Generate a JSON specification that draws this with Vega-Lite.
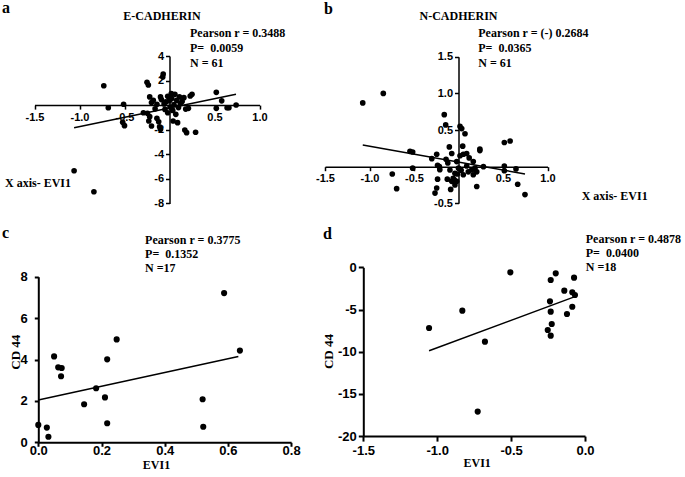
{
  "$schema": "https://vega.github.io/schema/vega-lite/v6.json",
  "width": 685,
  "height": 477,
  "autosize": {"type": "none"},
  "padding": 0,
  "background": "white",
  "config": {
    "view": {"stroke": null},
    "axis": {"grid": false, "labelFlush": false, "labelOverlap": false, "domainColor": "black", "tickColor": "black", "labelColor": "black", "labelFont": "Liberation Sans", "labelFontWeight": "bold", "titleFont": "Liberation Serif", "titleFontWeight": "bold", "titleColor": "black", "labelExpr": "replace(datum.label, '\u2212', '-')"}
  },
  "resolve": {"scale": {"x": "independent", "y": "independent"}, "axis": {"x": "independent", "y": "independent"}},
  "layer": [
    {
      "data": {"values": [
        {"x": -1.06, "y": -5.34}, {"x": -0.84, "y": -7.05}, {"x": -0.73, "y": 1.58}, {"x": -0.68, "y": -0.21}, {"x": -0.51, "y": 0.07},
        {"x": -0.52, "y": -1.40}, {"x": -0.50, "y": -1.67}, {"x": -0.25, "y": 1.86}, {"x": -0.235, "y": 1.64}, {"x": -0.07, "y": 2.53},
        {"x": -0.075, "y": 2.30}, {"x": -0.22, "y": 0.67}, {"x": -0.20, "y": 0.21}, {"x": -0.29, "y": -0.62}, {"x": -0.245, "y": -0.67},
        {"x": -0.22, "y": -0.94}, {"x": -0.23, "y": -1.29}, {"x": -0.14, "y": -1.07}, {"x": -0.12, "y": -1.35}, {"x": -0.20, "y": -1.70},
        {"x": -0.11, "y": -1.76}, {"x": -0.10, "y": -1.97}, {"x": -0.14, "y": 0.07}, {"x": -0.10, "y": 0.67}, {"x": -0.09, "y": 0.45},
        {"x": -0.02, "y": 0.72}, {"x": -0.04, "y": 0.26}, {"x": 0.025, "y": 0.53}, {"x": 0.06, "y": 0.88}, {"x": 0.006, "y": -0.16},
        {"x": 0.036, "y": -0.43}, {"x": -0.02, "y": -0.62}, {"x": 0.07, "y": -0.75}, {"x": 0.04, "y": -1.29}, {"x": 0.09, "y": -1.43},
        {"x": 0.12, "y": 0.13}, {"x": 0.16, "y": 0.61}, {"x": 0.11, "y": 0.67}, {"x": 0.21, "y": -0.26}, {"x": 0.18, "y": -0.32},
        {"x": 0.23, "y": 0.74}, {"x": 0.25, "y": 0.88}, {"x": 0.17, "y": -2.03}, {"x": 0.19, "y": -2.24}, {"x": 0.29, "y": -2.21},
        {"x": 0.52, "y": 1.04}, {"x": 0.58, "y": 0.35}, {"x": 0.52, "y": -0.26}, {"x": 0.64, "y": -0.21}, {"x": 0.66, "y": -0.21},
        {"x": 0.74, "y": 0.01}, {"x": -0.18, "y": 0.40}, {"x": -0.06, "y": 0.10}, {"x": 0.0, "y": 0.35}, {"x": 0.10, "y": -0.20},
        {"x": 0.14, "y": 0.30}, {"x": -0.05, "y": -0.35}, {"x": 0.05, "y": 0.05}, {"x": -0.16, "y": -0.30}, {"x": 0.08, "y": 0.40},
        {"x": 0.02, "y": 0.95}
      ]},
      "layer": [
        {
          "mark": {"type": "circle", "size": 32, "color": "black", "opacity": 1},
          "encoding": {
            "x": {"field": "x", "type": "quantitative",
              "scale": {"domain": [-1.5, 1], "range": [34.5, 259.5], "nice": false, "zero": false},
              "axis": {"orient": "bottom", "offset": -371.9, "values": [-1.5, -1, -0.5, 0.5, 1], "format": ".1f", "title": null, "labelFontSize": 11, "tickSize": 4, "domainWidth": 1.5, "tickWidth": 1.5, "labelPadding": 2}},
            "y": {"field": "y", "type": "quantitative",
              "scale": {"domain": [-8, 4], "range": [203.4, 56], "nice": false, "zero": false},
              "axis": {"orient": "left", "offset": -169.5, "values": [4, 2, -2, -4, -6, -8], "format": "d", "title": null, "labelFontSize": 11, "tickSize": 4, "domainWidth": 1.5, "tickWidth": 1.5, "labelPadding": 2}}
          }
        },
        {
          "data": {"values": [{"x": -1.06, "y": -1.84}, {"x": 0.739, "y": 0.88}]},
          "mark": {"type": "line", "color": "black", "strokeWidth": 1.5},
          "encoding": {"x": {"field": "x", "type": "quantitative"}, "y": {"field": "y", "type": "quantitative"}}
        },
        {
          "data": {"values": [{}]},
          "mark": {"type": "text", "text": "E-CADHERIN", "font": "Liberation Serif", "fontWeight": "bold", "fontSize": 12, "align": "center", "baseline": "middle", "color": "black"},
          "encoding": {"x": {"datum": -0.083, "type": "quantitative"}, "y": {"datum": 7.26, "type": "quantitative"}}
        },
        {
          "data": {"values": [{}]},
          "mark": {"type": "text", "text": ["Pearson r = 0.3488", "P= \u00a00.0059", "N = 61"], "lineHeight": 15, "font": "Liberation Serif", "fontWeight": "bold", "fontSize": 12, "align": "left", "baseline": "top", "color": "black"},
          "encoding": {"x": {"datum": 0.228, "type": "quantitative"}, "y": {"datum": 6.30, "type": "quantitative"}}
        },
        {
          "data": {"values": [{}]},
          "mark": {"type": "text", "text": "X axis- EVI1", "font": "Liberation Serif", "fontWeight": "bold", "fontSize": 12, "align": "left", "baseline": "middle", "color": "black"},
          "encoding": {"x": {"datum": -1.828, "type": "quantitative"}, "y": {"datum": -6.30, "type": "quantitative"}}
        },
        {
          "data": {"values": [{}]},
          "mark": {"type": "text", "text": "a", "font": "Liberation Serif", "fontWeight": "bold", "fontSize": 16, "align": "left", "baseline": "alphabetic", "color": "black"},
          "encoding": {"x": {"datum": -1.861, "type": "quantitative"}, "y": {"datum": 7.46, "type": "quantitative"}}
        }
      ]
    },
    {
      "data": {"values": [
        {"x": -1.076, "y": 0.87}, {"x": -0.845, "y": 1.0}, {"x": -0.744, "y": -0.10}, {"x": -0.695, "y": -0.30}, {"x": -0.545, "y": 0.21},
        {"x": -0.515, "y": 0.20}, {"x": -0.515, "y": -0.02}, {"x": -0.16, "y": 0.71}, {"x": -0.144, "y": 0.57}, {"x": -0.103, "y": 0.27},
        {"x": -0.30, "y": 0.11}, {"x": -0.245, "y": 0.17}, {"x": -0.14, "y": 0.10}, {"x": -0.076, "y": 0.18}, {"x": -0.235, "y": 0.02},
        {"x": -0.215, "y": 0.0}, {"x": -0.21, "y": -0.04}, {"x": -0.096, "y": -0.045}, {"x": -0.235, "y": -0.17}, {"x": -0.126, "y": -0.17},
        {"x": -0.076, "y": -0.20}, {"x": -0.047, "y": -0.18}, {"x": -0.088, "y": -0.31}, {"x": -0.245, "y": -0.29}, {"x": -0.264, "y": -0.36},
        {"x": -0.04, "y": -0.25}, {"x": -0.013, "y": -0.10}, {"x": 0.017, "y": 0.55}, {"x": 0.036, "y": 0.52}, {"x": 0.073, "y": 0.45},
        {"x": 0.047, "y": 0.28}, {"x": 0.054, "y": 0.17}, {"x": 0.092, "y": 0.18}, {"x": 0.017, "y": 0.15}, {"x": 0.24, "y": 0.24},
        {"x": 0.24, "y": 0.22}, {"x": -0.02, "y": 0.07}, {"x": 0.0, "y": -0.02}, {"x": 0.092, "y": 0.01}, {"x": 0.166, "y": 0.07},
        {"x": 0.148, "y": -0.045}, {"x": 0.185, "y": -0.02}, {"x": 0.205, "y": -0.07}, {"x": 0.28, "y": 0.0}, {"x": 0.11, "y": -0.07},
        {"x": 0.054, "y": -0.11}, {"x": 0.166, "y": -0.11}, {"x": -0.04, "y": -0.09}, {"x": -0.06, "y": -0.16}, {"x": -0.02, "y": -0.20},
        {"x": 0.205, "y": -0.27}, {"x": 0.515, "y": 0.33}, {"x": 0.58, "y": 0.35}, {"x": 0.515, "y": 0.01}, {"x": 0.515, "y": -0.055},
        {"x": 0.646, "y": -0.03}, {"x": 0.665, "y": -0.24}, {"x": 0.747, "y": -0.38}, {"x": -0.12, "y": 0.05}, {"x": 0.03, "y": -0.05},
        {"x": 0.12, "y": 0.12}
      ]},
      "layer": [
        {
          "mark": {"type": "circle", "size": 32, "color": "black", "opacity": 1},
          "encoding": {
            "x": {"field": "x", "type": "quantitative",
              "scale": {"domain": [-1.5, 1], "range": [325, 547.5], "nice": false, "zero": false},
              "axis": {"orient": "bottom", "offset": -310.3, "values": [-1.5, -1, -0.5, 0.5, 1], "format": ".1f", "title": null, "labelFontSize": 11, "tickSize": 4, "domainWidth": 1.5, "tickWidth": 1.5, "labelPadding": 2}},
            "y": {"field": "y", "type": "quantitative",
              "scale": {"domain": [-0.5, 1.5], "range": [203.35, 56.75], "nice": false, "zero": false},
              "axis": {"orient": "left", "offset": -458.5, "values": [1.5, 1, 0.5, -0.5], "format": ".1f", "title": null, "labelFontSize": 11, "tickSize": 4, "domainWidth": 1.5, "tickWidth": 1.5, "labelPadding": 2}}
          }
        },
        {
          "data": {"values": [{"x": -1.076, "y": 0.296}, {"x": 0.747, "y": -0.10}]},
          "mark": {"type": "line", "color": "black", "strokeWidth": 1.5},
          "encoding": {"x": {"field": "x", "type": "quantitative"}, "y": {"field": "y", "type": "quantitative"}}
        },
        {
          "data": {"values": [{}]},
          "mark": {"type": "text", "text": "N-CADHERIN", "font": "Liberation Serif", "fontWeight": "bold", "fontSize": 12, "align": "center", "baseline": "middle", "color": "black"},
          "encoding": {"x": {"datum": 0.0, "type": "quantitative"}, "y": {"datum": 2.056, "type": "quantitative"}}
        },
        {
          "data": {"values": [{}]},
          "mark": {"type": "text", "text": ["Pearson r = (-) 0.2684", "P= \u00a00.0365", "N = 61"], "lineHeight": 15, "font": "Liberation Serif", "fontWeight": "bold", "fontSize": 12, "align": "left", "baseline": "top", "color": "black"},
          "encoding": {"x": {"datum": 0.222, "type": "quantitative"}, "y": {"datum": 1.896, "type": "quantitative"}}
        },
        {
          "data": {"values": [{}]},
          "mark": {"type": "text", "text": "X axis- EVI1", "font": "Liberation Serif", "fontWeight": "bold", "fontSize": 12, "align": "left", "baseline": "middle", "color": "black"},
          "encoding": {"x": {"datum": 1.384, "type": "quantitative"}, "y": {"datum": -0.40, "type": "quantitative"}}
        },
        {
          "data": {"values": [{}]},
          "mark": {"type": "text", "text": "b", "font": "Liberation Serif", "fontWeight": "bold", "fontSize": 16, "align": "left", "baseline": "alphabetic", "color": "black"},
          "encoding": {"x": {"datum": -1.51, "type": "quantitative"}, "y": {"datum": 2.09, "type": "quantitative"}}
        }
      ]
    },
    {
      "data": {"values": [
        {"x": 0.0, "y": 0.84}, {"x": 0.027, "y": 0.71}, {"x": 0.032, "y": 0.27}, {"x": 0.050, "y": 4.15}, {"x": 0.063, "y": 3.62},
        {"x": 0.074, "y": 3.59}, {"x": 0.072, "y": 3.19}, {"x": 0.145, "y": 1.84}, {"x": 0.183, "y": 2.61}, {"x": 0.211, "y": 2.17},
        {"x": 0.218, "y": 4.01}, {"x": 0.218, "y": 0.92}, {"x": 0.248, "y": 4.97}, {"x": 0.520, "y": 2.08}, {"x": 0.522, "y": 0.75},
        {"x": 0.588, "y": 7.21}, {"x": 0.638, "y": 4.43}
      ]},
      "layer": [
        {
          "mark": {"type": "circle", "size": 38, "color": "black", "opacity": 1},
          "encoding": {
            "x": {"field": "x", "type": "quantitative",
              "scale": {"domain": [0, 0.8], "range": [38.3, 291.1], "nice": false, "zero": false},
              "axis": {"orient": "bottom", "offset": -34.7, "values": [0, 0.2, 0.4, 0.6, 0.8], "format": ".1f", "title": "EVI1", "titleFontSize": 12, "titleX": 156, "titleY": 26.5, "titleBaseline": "alphabetic", "titleAlign": "center", "labelFontSize": 13, "tickSize": 4, "domainWidth": 2, "tickWidth": 2, "labelPadding": -1.5}},
            "y": {"field": "y", "type": "quantitative",
              "scale": {"domain": [0, 8], "range": [442.3, 276.7], "nice": false, "zero": false},
              "axis": {"orient": "left", "offset": -38.3, "values": [0, 2, 4, 6, 8], "format": "d", "title": "CD 44", "titleFontSize": 13, "titleX": -23.3, "titleY": 351.7, "titleAngle": 270, "titleBaseline": "middle", "titleAlign": "center", "labelFontSize": 13, "tickSize": 4, "domainWidth": 2, "tickWidth": 2, "labelPadding": 7}}
          }
        },
        {
          "data": {"values": [{"x": 0.0, "y": 2.04}, {"x": 0.633, "y": 4.14}]},
          "mark": {"type": "line", "color": "black", "strokeWidth": 1.5},
          "encoding": {"x": {"field": "x", "type": "quantitative"}, "y": {"field": "y", "type": "quantitative"}}
        },
        {
          "data": {"values": [{}]},
          "mark": {"type": "text", "text": ["Pearson r = 0.3775", "P= \u00a00.1352", "N =17"], "lineHeight": 14, "font": "Liberation Serif", "fontWeight": "bold", "fontSize": 12, "align": "left", "baseline": "top", "color": "black"},
          "encoding": {"x": {"datum": 0.338, "type": "quantitative"}, "y": {"datum": 10.01, "type": "quantitative"}}
        },
        {
          "data": {"values": [{}]},
          "mark": {"type": "text", "text": "c", "font": "Liberation Serif", "fontWeight": "bold", "fontSize": 16, "align": "left", "baseline": "alphabetic", "color": "black"},
          "encoding": {"x": {"datum": -0.115, "type": "quantitative"}, "y": {"datum": 9.85, "type": "quantitative"}}
        }
      ]
    },
    {
      "data": {"values": [
        {"x": -1.055, "y": -7.19}, {"x": -0.830, "y": -5.14}, {"x": -0.677, "y": -8.81}, {"x": -0.726, "y": -17.1}, {"x": -0.505, "y": -0.6},
        {"x": -0.232, "y": -1.5}, {"x": -0.198, "y": -0.71}, {"x": -0.237, "y": -4.03}, {"x": -0.232, "y": -5.26}, {"x": -0.225, "y": -6.72},
        {"x": -0.252, "y": -7.43}, {"x": -0.232, "y": -8.1}, {"x": -0.140, "y": -2.77}, {"x": -0.122, "y": -5.53}, {"x": -0.086, "y": -2.96},
        {"x": -0.074, "y": -1.23}, {"x": -0.068, "y": -3.28}, {"x": -0.086, "y": -4.67}
      ]},
      "layer": [
        {
          "mark": {"type": "circle", "size": 38, "color": "black", "opacity": 1},
          "encoding": {
            "x": {"field": "x", "type": "quantitative",
              "scale": {"domain": [-1.5, 0], "range": [363.3, 585], "nice": false, "zero": false},
              "axis": {"orient": "bottom", "offset": -40.9, "values": [-1.5, -1, -0.5, 0], "format": ".1f", "title": "EVI1", "titleFontSize": 12, "titleX": 476.7, "titleY": 30, "titleBaseline": "alphabetic", "titleAlign": "center", "labelFontSize": 13, "tickSize": 5, "domainWidth": 2, "tickWidth": 2, "labelPadding": 3}},
            "y": {"field": "y", "type": "quantitative",
              "scale": {"domain": [-20, 0], "range": [436.1, 267.3], "nice": false, "zero": false},
              "axis": {"orient": "left", "offset": -363.3, "values": [0, -5, -10, -15, -20], "format": "d", "title": "CD 44", "titleFontSize": 13, "titleX": -35.3, "titleY": 351, "titleAngle": 270, "titleBaseline": "middle", "titleAlign": "center", "labelFontSize": 13, "tickSize": 5, "domainWidth": 2, "tickWidth": 2, "labelPadding": 2}}
          }
        },
        {
          "data": {"values": [{"x": -1.055, "y": -9.88}, {"x": -0.068, "y": -3.48}]},
          "mark": {"type": "line", "color": "black", "strokeWidth": 1.5},
          "encoding": {"x": {"field": "x", "type": "quantitative"}, "y": {"field": "y", "type": "quantitative"}}
        },
        {
          "data": {"values": [{}]},
          "mark": {"type": "text", "text": ["Pearson r = 0.4878", "P= \u00a00.0400", "N =18"], "lineHeight": 14, "font": "Liberation Serif", "fontWeight": "bold", "fontSize": 12, "align": "left", "baseline": "top", "color": "black"},
          "encoding": {"x": {"datum": 0.005, "type": "quantitative"}, "y": {"datum": 3.93, "type": "quantitative"}}
        },
        {
          "data": {"values": [{}]},
          "mark": {"type": "text", "text": "d", "font": "Liberation Serif", "fontWeight": "bold", "fontSize": 16, "align": "left", "baseline": "alphabetic", "color": "black"},
          "encoding": {"x": {"datum": -1.773, "type": "quantitative"}, "y": {"datum": 3.41, "type": "quantitative"}}
        }
      ]
    }
  ]
}
